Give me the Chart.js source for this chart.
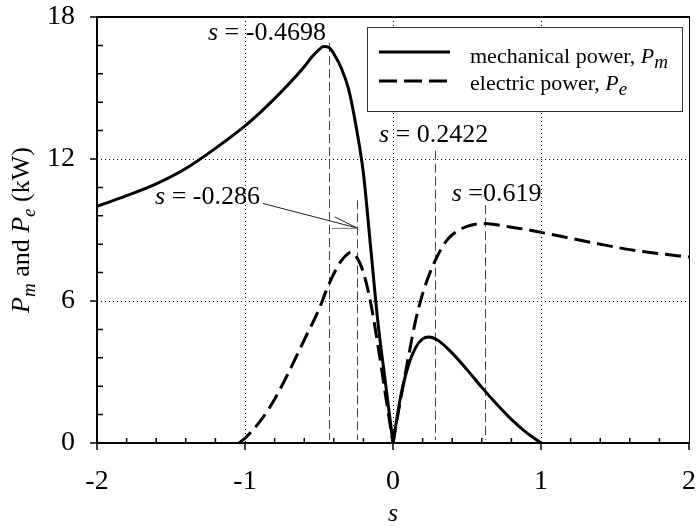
<!DOCTYPE html>
<html>
<head>
<meta charset="utf-8">
<script src="https://cdn.jsdelivr.net/npm/chart.js@4"></script>
<style>
  body { margin: 0; background: #fff; }
  #chart { display: block; }
</style>
</head>
<body>
<canvas id="chart" width="698" height="527" style="width:698px;height:527px"></canvas>
<script>
// slip values and powers (kW); null splits the cusp at s = 0
const pm_s = [-2, -1.8, -1.6, -1.4, -1.2, -1.0, -0.9, -0.8, -0.7, -0.6, -0.55, -0.5, -0.4698, -0.43, -0.4, -0.35, -0.3, -0.25, -0.2, -0.15, -0.1, -0.05, 0,
              0, 0, 0.05, 0.1, 0.15, 0.2, 0.2422, 0.3, 0.4, 0.5, 0.6, 0.7, 0.8, 0.9, 1.0];
const pm_p = [10.0, 10.45, 10.95, 11.6, 12.45, 13.4, 13.95, 14.55, 15.2, 15.9, 16.3, 16.62, 16.75, 16.7, 16.45, 15.85, 14.95, 13.4, 11.4, 8.2, 5.0, 2.5, 0,
              null, 0, 1.9, 3.2, 4.0, 4.4, 4.48, 4.35, 3.8, 3.1, 2.35, 1.65, 1.0, 0.45, 0];

const pe_s = [-1.04, -1.0, -0.9, -0.8, -0.7, -0.6, -0.5, -0.45, -0.4, -0.35, -0.3, -0.286, -0.25, -0.2, -0.15, -0.1, -0.05, 0,
              0, 0, 0.05, 0.1, 0.15, 0.2, 0.25, 0.3, 0.35, 0.4, 0.5, 0.619, 0.7, 0.8, 0.9, 1.0, 1.2, 1.4, 1.6, 1.8, 2.0];
const pe_p = [0, 0.2, 0.9, 1.85, 3.05, 4.35, 5.65, 6.45, 7.15, 7.7, 8.02, 8.05, 7.9, 7.2, 5.9, 4.05, 2.0, 0,
              null, 0, 1.8, 3.5, 5.1, 6.3, 7.2, 7.9, 8.45, 8.8, 9.15, 9.27, 9.22, 9.12, 9.02, 8.9, 8.65, 8.4, 8.17, 8.0, 7.86];

// dashed marker lines (position on s axis, top in kW)
const marker_s = [-0.432, -0.245, 0.284, 0.619];
const marker_top = [16.9, 10.25, 12.35, 10.05];

// annotation labels: text after "s", left edge and baseline in data units
const label_text = [" = -0.4698", " = -0.286", " = 0.2422", " =0.619"];
const label_s = [-1.25, -1.608, -0.095, 0.397];
const label_p = [17.03, 10.08, 12.7, 10.24];

// arrow from the "-0.286" label to its marker
const arrow_from = [-0.878, 10.12];
const arrow_to = [-0.245, 9.09];

const x_grid = [-1, 0, 1];
const y_grid = [6, 12];

const serif = "'Liberation Serif', 'Times New Roman', serif";

function to_points(xs, ys){
    return xs.map((x, i) => ({x: x, y: ys[i]}));
}

// draw runs of [text, italic, dy, size] left to right from x
function draw_runs(c, runs, x, y, size){
    for (const r of runs){
        const sz = r[3] || size;
        c.font = (r[1] ? "italic " : "") + sz + "px " + serif;
        c.fillText(r[0], x, y + (r[2] || 0));
        x += c.measureText(r[0]).width;
    }
    return x;
}

function runs_width(c, runs, size){
    let w = 0;
    for (const r of runs){
        const sz = r[3] || size;
        c.font = (r[1] ? "italic " : "") + sz + "px " + serif;
        w += c.measureText(r[0]).width;
    }
    return w;
}

const decor = {
    id: "decor",
    beforeDatasetsDraw(chart){
        const c = chart.ctx;
        const xs = chart.scales.x, ys = chart.scales.y;
        const a = chart.chartArea;
        c.save();
        // dotted grid
        c.strokeStyle = "#000";
        c.lineWidth = 1;
        c.setLineDash([1, 3]);
        c.beginPath();
        for (const g of x_grid){
            const px = Math.round(xs.getPixelForValue(g)) + 0.5;
            c.moveTo(px, a.top); c.lineTo(px, a.bottom);
        }
        for (const g of y_grid){
            const py = Math.round(ys.getPixelForValue(g)) + 0.5;
            c.moveTo(a.left, py); c.lineTo(a.right, py);
        }
        c.stroke();
        // marker lines
        c.strokeStyle = "#444";
        c.setLineDash([9, 4]);
        c.beginPath();
        marker_s.forEach((m, i) => {
            const px = Math.round(xs.getPixelForValue(m)) + 0.5;
            c.moveTo(px, ys.getPixelForValue(marker_top[i]));
            c.lineTo(px, ys.getPixelForValue(0) - 3);
        });
        c.stroke();
        c.restore();
    },
    afterDatasetsDraw(chart){
        const c = chart.ctx;
        const xs = chart.scales.x, ys = chart.scales.y;
        const a = chart.chartArea;
        c.save();
        c.setLineDash([]);
        c.strokeStyle = "#000";

        // frame
        c.lineWidth = 1;
        c.beginPath();
        c.moveTo(a.right + 0.5, a.top); c.lineTo(a.right + 0.5, a.bottom);
        c.stroke();
        c.lineWidth = 2;
        c.beginPath();
        c.moveTo(a.left, a.top); c.lineTo(a.right + 1, a.top);
        c.moveTo(a.left, a.top - 1); c.lineTo(a.left, a.bottom + 1);
        c.moveTo(a.left - 1, a.bottom); c.lineTo(a.right + 1, a.bottom);
        c.stroke();

        // ticks: majors outward, minors inward
        c.lineWidth = 1.5;
        c.beginPath();
        for (let v = -2; v <= 2.001; v += 1){
            const px = xs.getPixelForValue(v);
            c.moveTo(px, a.bottom); c.lineTo(px, a.bottom + 7);
        }
        for (let v = -1.8; v < 2; v += 0.2){
            if (Math.abs(v - Math.round(v)) < 0.01) continue;
            const px = xs.getPixelForValue(v);
            c.moveTo(px, a.bottom); c.lineTo(px, a.bottom - 5);
        }
        for (let v = 0; v <= 18.001; v += 6){
            const py = ys.getPixelForValue(v);
            c.moveTo(a.left, py); c.lineTo(a.left - 7, py);
        }
        for (let v = 1.2; v < 18; v += 1.2){
            if (Math.abs(v / 6 - Math.round(v / 6)) < 0.01) continue;
            const py = ys.getPixelForValue(v);
            c.moveTo(a.left, py); c.lineTo(a.left + 6, py);
        }
        c.stroke();

        // annotation labels
        c.fillStyle = "#000";
        c.textBaseline = "alphabetic";
        c.textAlign = "left";
        label_text.forEach((t, i) => {
            draw_runs(c, [["s", true], [t, false]], xs.getPixelForValue(label_s[i]), ys.getPixelForValue(label_p[i]), 26);
        });

        // arrow
        const x0 = xs.getPixelForValue(arrow_from[0]), y0 = ys.getPixelForValue(arrow_from[1]);
        const x1 = xs.getPixelForValue(arrow_to[0]), y1 = ys.getPixelForValue(arrow_to[1]);
        c.lineWidth = 1;
        c.strokeStyle = "#222";
        c.beginPath();
        c.moveTo(x0, y0); c.lineTo(x1, y1);
        c.moveTo(x1 - 22, y1 - 11); c.lineTo(x1, y1);
        c.stroke();
        c.strokeStyle = "#777";
        c.beginPath();
        c.moveTo(x1 - 25, y1 + 0.5); c.lineTo(x1, y1 + 0.5);
        c.stroke();

        // legend box
        const lx = 367, ly = 27, lw = 315, lh = 84;
        c.fillStyle = "#fff";
        c.fillRect(lx, ly, lw, lh);
        c.strokeStyle = "#333";
        c.lineWidth = 1;
        c.strokeRect(lx + 0.5, ly + 0.5, lw, lh);
        c.strokeStyle = "#000";
        c.lineWidth = 3;
        c.beginPath();
        c.moveTo(379, 52); c.lineTo(450, 52);
        c.stroke();
        c.setLineDash([18, 7]);
        c.beginPath();
        c.moveTo(379, 81); c.lineTo(450, 81);
        c.stroke();
        c.setLineDash([]);
        c.fillStyle = "#000";
        draw_runs(c, [["mechanical power, ", false], ["P", true], ["m", true, 5, 19]], 470, 63, 22);
        draw_runs(c, [["electric power, ", false], ["P", true], ["e", true, 5, 19]], 470, 90, 22);

        // x axis title
        c.font = "italic 26px " + serif;
        c.textAlign = "center";
        c.fillText("s", (a.left + a.right) / 2, 521);

        // y axis title, rotated
        const yt = [["P", true], ["m", true, 6, 19], [" and ", false], ["P", true], ["e", true, 6, 19], [" (kW)", false]];
        c.save();
        c.translate(29, (a.top + a.bottom) / 2);
        c.rotate(-Math.PI / 2);
        c.textAlign = "left";
        const w = runs_width(c, yt, 26);
        draw_runs(c, yt, -w / 2, 0, 26);
        c.restore();

        c.restore();
    }
};

const ctx = document.getElementById("chart");

const tick_font = { family: serif, size: 28 };

const chart = new Chart(ctx, {
    type: "line",
    data: {
        datasets: [
            {
                label: "mechanical power",
                data: to_points(pm_s, pm_p),
                borderColor: "#000",
                borderWidth: 3,
                pointRadius: 0,
                cubicInterpolationMode: "monotone",
                fill: false,
                spanGaps: false,
                clip: 6
            },
            {
                label: "electric power",
                data: to_points(pe_s, pe_p),
                borderColor: "#000",
                borderWidth: 3,
                borderDash: [16, 7],
                pointRadius: 0,
                cubicInterpolationMode: "monotone",
                fill: false,
                spanGaps: false,
                clip: 6
            }
        ]
    },
    options: {
        responsive: false,
        animation: false,
        layout: { padding: { top: 17, right: 9, left: 0, bottom: 0 } },
        plugins: {
            legend: { display: false },
            tooltip: { enabled: false }
        },
        scales: {
            x: {
                type: "linear",
                min: -2,
                max: 2,
                ticks: { stepSize: 1, font: tick_font, color: "#000", padding: 22 },
                grid: { display: false, drawTicks: false },
                border: { display: false },
                afterFit: (s) => { s.height = 84; s.paddingLeft = 0; s.paddingRight = 0; }
            },
            y: {
                min: 0,
                max: 18,
                ticks: { stepSize: 6, font: tick_font, color: "#000", padding: 22 },
                grid: { display: false, drawTicks: false },
                border: { display: false },
                afterFit: (s) => { s.width = 97; s.paddingTop = 0; s.paddingBottom = 0; }
            }
        }
    },
    plugins: [decor]
});
</script>
</body>
</html>
